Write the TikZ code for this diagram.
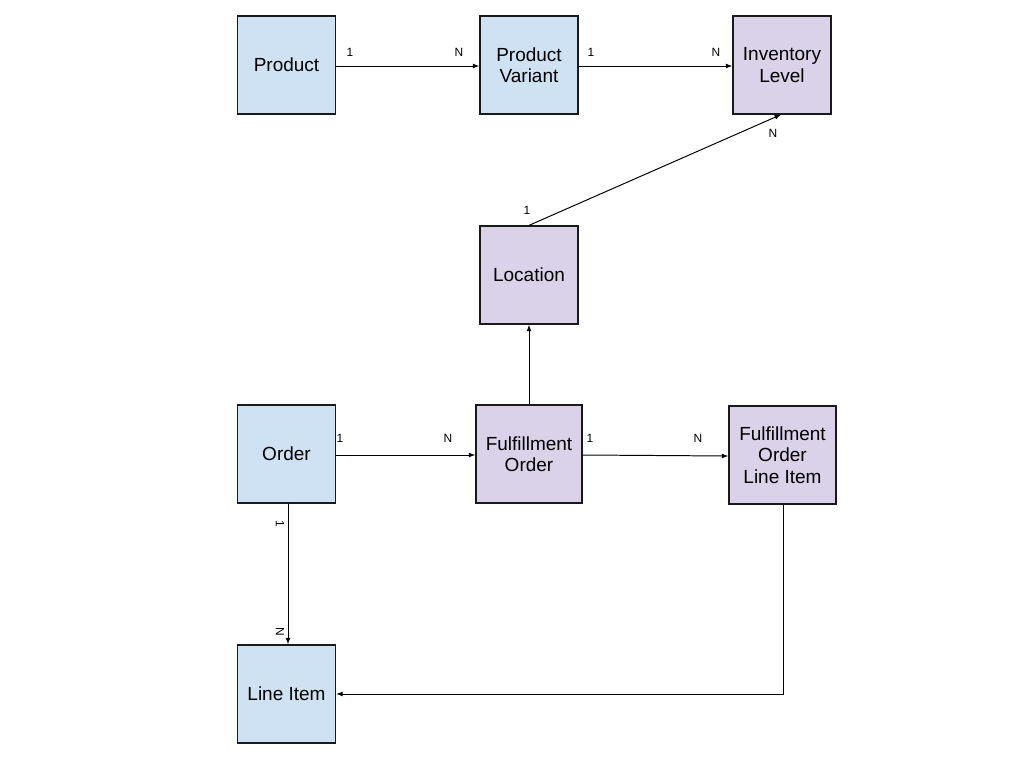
\documentclass[tikz,border=0pt]{standalone}
\usepackage{fontspec}
\setmainfont{Liberation Sans}
\usepackage{tikz}
\usetikzlibrary{arrows.meta,positioning,calc}
\definecolor{entblue}{HTML}{CFE2F3}
\definecolor{entpurple}{HTML}{D9D2E9}
\definecolor{entline}{HTML}{1A1A1A}
\tikzset{
  entity/.style={rectangle, draw=entline, line width=0.9pt, fill=#1,
                 align=center, font=\fontsize{13.5}{15.2}\selectfont,
                 minimum width=98*0.025cm, minimum height=98*0.025cm, inner sep=2pt},
  card/.style={font=\fontsize{8.5}{9}\selectfont, inner sep=0pt},
  rel/.style={-{Latex[length=1.6mm,width=1.2mm]}, line width=0.7pt, draw=black},
}
\begin{document}
\begin{tikzpicture}[x=0.025cm, y=-0.025cm]
    \useasboundingbox (0,0) rectangle (1024,768);
    % entities
    \node[entity=entblue] (prod) at (286.5,65) {Product};
    \node[entity=entblue] (var) at (529,65) {Product\\Variant};
    \node[entity=entpurple] (inv) at (782,65) {Inventory\\Level};
    \node[entity=entpurple] (loc) at (529,275) {Location};
    \node[entity=entblue] (ord) at (286.5,454) {Order};
    \node[entity=entpurple, minimum width=106*0.025cm] (ford) at (529,454) {Fulfillment\\Order};
    \node[entity=entpurple, minimum width=107*0.025cm] (foli) at (782.5,455) {Fulfillment\\Order\\Line Item};
    \node[entity=entblue] (li) at (286.5,694) {Line Item};
    % relations
    \draw[rel] (prod.east |- 0,66) -- (var.west |- 0,66);
    \node[card] at (350,52) {1};
    \node[card] at (459,52) {N};
    \draw[rel] (var.east |- 0,66) -- (inv.west |- 0,66);
    \node[card] at (591,52) {1};
    \node[card] at (716,52) {N};
    \draw[rel] (loc.north) -- ($(inv.south)+(-1,0)$);
    \node[card] at (527,210) {1};
    \node[card] at (773,133) {N};
    \draw[rel] (ford.north) -- (loc.south);
    \draw[rel] (ord.east |- 0,455) -- (ford.west |- 0,455);
    \node[card] at (340,438) {1};
    \node[card] at (448,438) {N};
    \draw[rel] (ford.east |- 0,455) -- (foli.west |- 0,456);
    \node[card] at (590,438) {1};
    \node[card] at (698,438) {N};
    \draw[rel] (ord.south -| 288,0) -- (li.north -| 288,0);
    \node[card, rotate=-90] at (280,524) {1};
    \node[card, rotate=-90] at (280,632) {N};
    \draw[rel] (foli.south -| 783,0) |- (li.east |- 0,694);
  \end{tikzpicture}
\end{document}
